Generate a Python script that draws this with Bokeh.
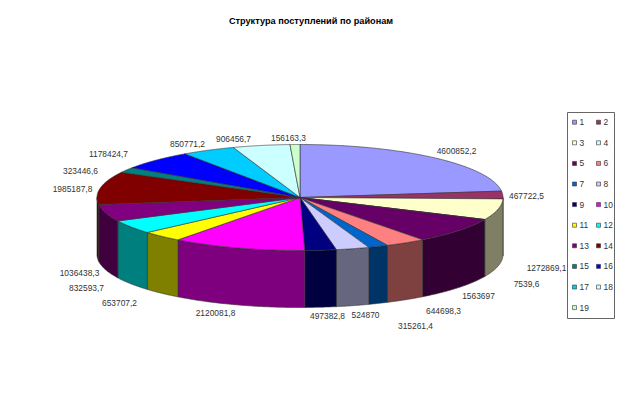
import numpy as np
from bokeh.plotting import figure
from bokeh.models import Range1d
from bokeh.core.properties import value
from bokeh.embed import file_html
from bokeh.resources import INLINE

categories = [str(i) for i in range(1, 20)]
values = [4600852.2, 467722.5, 1272869.1, 7539.6, 1563697, 644698.3, 315261.4, 524870,
          497382.8, 2120081.8, 653707.2, 832593.7, 1036438.3, 1985187.8, 323446.6,
          1178424.7, 850771.2, 906456.7, 156163.3]
labels = ["4600852,2", "467722,5", "1272869,1", "7539,6", "1563697", "644698,3", "315261,4",
          "524870", "497382,8", "2120081,8", "653707,2", "832593,7", "1036438,3", "1985187,8",
          "323446,6", "1178424,7", "850771,2", "906456,7", "156163,3"]
top_colors = ["#9999FF", "#993366", "#FFFFCC", "#CCFFFF", "#660066", "#FF8080", "#0066CC", "#CCCCFF",
              "#000080", "#FF00FF", "#FFFF00", "#00FFFF", "#800080", "#800000", "#008080", "#0000FF",
              "#00CCFF", "#CCFFFF", "#CCFFCC"]
title = "Структура поступлений по районам"

# layout, in page pixels
label_x = [456, 526, 546, 526, 478, 443, 415, 365, 327, 215, 119, 86, 79, 72, 80, 108, 187, 233, 288]
label_y = [150, 195, 267, 283, 295, 310, 325, 314, 315, 312, 302, 287, 272, 188, 170, 153, 143, 138, 137]
CX, CY, RX, RY, DEPTH = 299.5, 197, 203, 53, 57
LINE = "#333333"
TEXT = "#333333"
FONT = value("Liberation Sans")


def darker(c):
    return "#" + "".join(f"{int(c[i:i+2], 16) // 2:02x}" for i in (1, 3, 5))


def pt(a):
    return CX + RX * np.sin(a), CY - RY * np.cos(a)


p = figure(width=620, height=403, output_backend="svg", toolbar_location=None,
           x_range=Range1d(0, 620), y_range=Range1d(403, 0), min_border=0)
p.axis.visible = False
p.grid.visible = False
p.outline_line_color = None

edges = np.concatenate([[0], np.cumsum(values)]) / np.sum(values) * 2 * np.pi

# side walls
wx, wy, wc = [], [], []
for i, c in enumerate(top_colors):
    a0, a1 = max(edges[i], np.pi / 2), min(edges[i + 1], 3 * np.pi / 2)
    if a1 <= a0:
        continue
    t = np.linspace(a0, a1, 60)
    x, y = pt(t)
    wx.append(np.concatenate([x, x[::-1]]))
    wy.append(np.concatenate([y, y[::-1] + DEPTH]))
    wc.append(darker(c))
p.patches(wx, wy, fill_color=wc, line_color=LINE, line_width=0.6)

# top face
tx, ty = [], []
for i in range(len(values)):
    t = np.linspace(edges[i], edges[i + 1], 80)
    x, y = pt(t)
    tx.append(np.concatenate([[CX], x]))
    ty.append(np.concatenate([[CY], y]))
p.patches(tx, ty, fill_color=top_colors, line_color=LINE, line_width=0.6)

# value labels
p.text(label_x, label_y, text=labels, text_font=FONT, text_font_size="8.4px", text_color=TEXT,
       text_align="center", text_baseline="middle")

# title
p.text([310.5], [20], text=[title], text_font=FONT, text_font_size="9.2px", text_font_style="bold",
       text_color="#000000", text_align="center", text_baseline="middle")

# legend
p.quad(left=[567], right=[614], top=[112], bottom=[318], fill_color="white",
       line_color="#666666", line_width=1)
lx = [574 + 24 * (i % 2) for i in range(len(categories))]
ly = [121.7 + 20.6 * (i // 2) for i in range(len(categories))]
p.rect(lx, ly, width=4, height=4, fill_color=top_colors, line_color="#333333", line_width=0.6)
p.text([x + 5 for x in lx], ly, text=categories, text_font=FONT, text_font_size="8.4px",
       text_color=TEXT, text_align="left", text_baseline="middle")

open("out.html", "w").write(file_html(p, INLINE))
